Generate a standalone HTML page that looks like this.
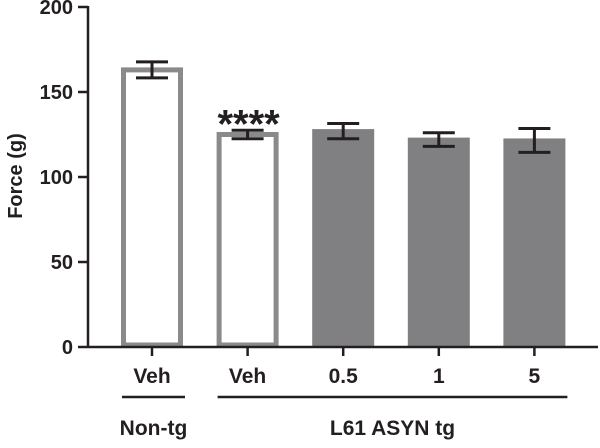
<!DOCTYPE html>
<html><head><meta charset="utf-8"><style>
body{margin:0;background:#fff}
svg text{font-family:"Liberation Sans",sans-serif;font-weight:bold;fill:#231f20}
</style></head><body>
<svg id="c" width="600" height="443" xmlns="http://www.w3.org/2000/svg"></svg>
<script>
const categories=["Veh","Veh","0.5","1","5"];
const values=[163,125,127,122,121.5];
const errors=[4.7,2.5,4.5,4,7];
const filled=[false,false,true,true,true];
const yTicks=[0,50,100,150,200];
const groups=[{label:"Non-tg",from:0,to:0},{label:"L61 ASYN tg",from:1,to:4}];
const svg=document.getElementById('c');
const NS="http://www.w3.org/2000/svg";
const y0=347,yScale=1.7;
function y(v){return y0-v*yScale;}
function x(i){return 152+i*95.6;}
function mk(t,a,txt){const e=document.createElementNS(NS,t);for(const k in a)e.setAttribute(k,a[k]);if(txt!=null)e.textContent=txt;svg.appendChild(e);return e;}
// y axis
let ax=mk('line',{x1:88,y1:y(200)-1,x2:88,y2:y0+1,stroke:'#231f20','stroke-width':2.5});


yTicks.forEach(t=>{
 let l=mk('line',{x1:78,y1:y(t),x2:88,y2:y(t),stroke:'#231f20','stroke-width':2.5});
 
 
 let tx=mk('text',{x:73,y:y(t)+7,'text-anchor':'end','font-size':20},t);
 
 
});
let yt=mk('text',{x:0,y:0,'text-anchor':'middle','font-size':20,transform:'translate(22,176) rotate(-90)'},'Force (g)');


// bars
const bw=62;
values.forEach((v,i)=>{
 const cx=x(i);
 let b;
 if(filled[i]){
  b=mk('rect',{x:cx-bw/2,y:y(v)-2,width:bw,height:y0-y(v)+2,fill:'#808083'});
 } else {
  b=mk('rect',{x:cx-bw/2+2.5,y:y(v),width:bw-5,height:y0-y(v)-2,fill:'#fff',stroke:'#8a8a8c','stroke-width':5});
 }
 
 
 const t=y(v+errors[i]),bo=y(v-errors[i]);
 let e=mk('path',{d:`M${cx-16},${t}H${cx+16}M${cx},${t}V${bo}M${cx-16},${bo}H${cx+16}`,stroke:'#231f20','stroke-width':3,fill:'none'});
 
 
 let tk=mk('line',{x1:cx,y1:y0,x2:cx,y2:y0+9,stroke:'#231f20','stroke-width':2.5});
 
 
 let lb=mk('text',{x:cx,y:383,'text-anchor':'middle','font-size':21},categories[i]);
 
 
});
let xa=mk('line',{x1:88,y1:y0,x2:598,y2:y0,stroke:'#231f20','stroke-width':2.5});


let st=mk('text',{x:x(1)+1,y:y(values[1]+errors[1])+7,'text-anchor':'middle','font-size':40},'****');


groups.forEach(g=>{
 const a=x(g.from)-30,b=x(g.to)+33;
 let l=mk('line',{x1:a,y1:397,x2:b,y2:397,stroke:'#231f20','stroke-width':2.5});
 
 
 let t=mk('text',{x:(a+b)/2,y:435,'text-anchor':'middle','font-size':21},g.label);
 
 
});
</script>
</body></html>
